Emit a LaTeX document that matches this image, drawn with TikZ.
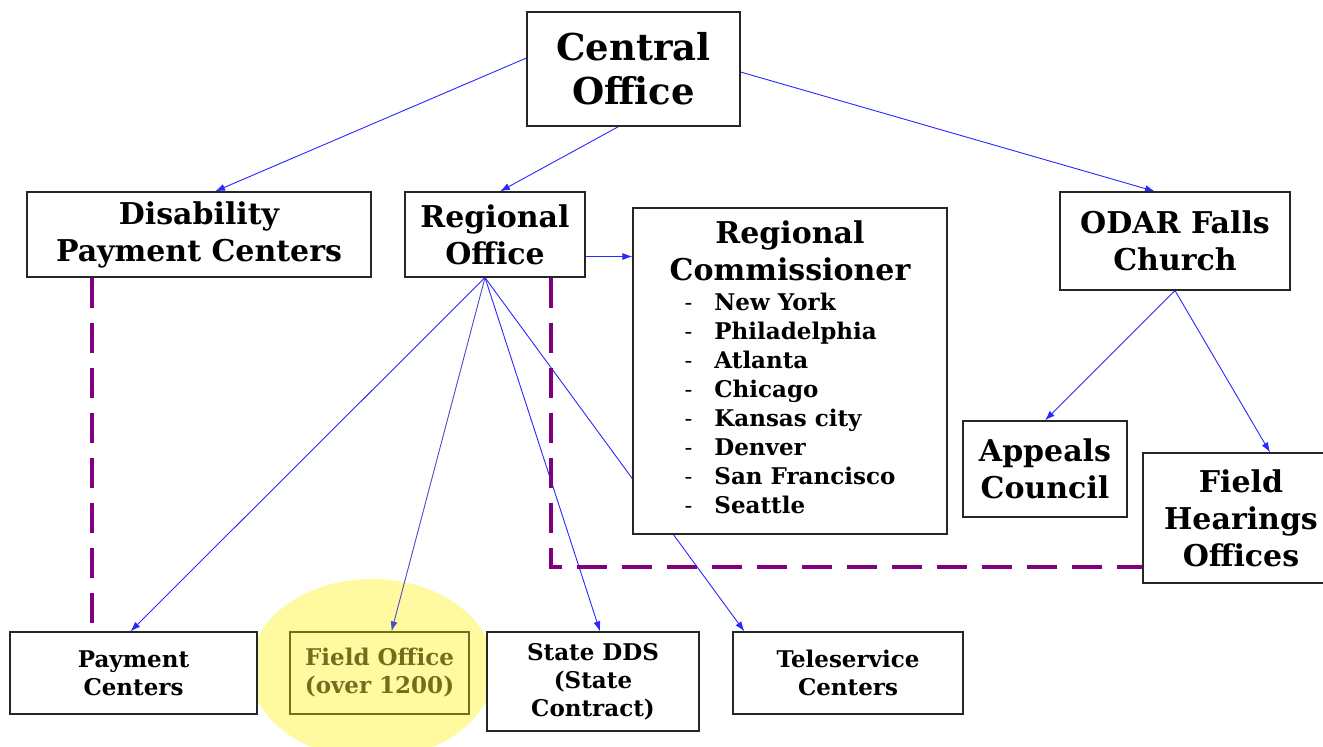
\documentclass[tikz,border=0pt]{standalone}
\usepackage{fontspec}
\setmainfont{DejaVu Serif}
\usetikzlibrary{arrows.meta,backgrounds}
\definecolor{linkblue}{RGB}{40,40,255}
\definecolor{dashpurple}{RGB}{128,0,128}
\definecolor{hilite}{RGB}{255,250,160}
\definecolor{olivetext}{RGB}{115,110,30}
\begin{document}
\begin{tikzpicture}[x=1pt,y=-1pt,>={Latex[length=10pt,width=7pt]},
    box/.style={draw=black!85,line width=1.2pt,fill=white,align=center,inner sep=0pt},
    bigtext/.style={font=\bfseries\fontsize{37}{44}\selectfont},
    midtext/.style={font=\bfseries\fontsize{30}{37}\selectfont},
    smalltext/.style={font=\bfseries\fontsize{23}{28}\selectfont},
    link/.style={->,linkblue,line width=0.9pt},
    purpledash/.style={dashpurple,line width=4.5pt,dash pattern=on 30pt off 15pt}]
  \useasboundingbox (0,0) rectangle (1323,747);
  \node[box,bigtext,minimum width=213,minimum height=114] (co) at (633.5,69) {Central\\Office};
  \node[box,midtext,minimum width=344,minimum height=85] (dpc) at (199,234.5) {Disability\\Payment Centers};
  \node[box,midtext,minimum width=180,minimum height=85] (ro) at (495,234.5) {Regional\\Office};
  \node[box,midtext,minimum width=314,minimum height=326] (rc) at (790,371) {Regional\\Commissioner\\[-7pt]
    {\fontsize{23}{29}\selectfont\begin{tabular}[t]{@{}l@{\hspace{22pt}}l@{}}
      \mdseries-&New York\\ \mdseries-&Philadelphia\\ \mdseries-&Atlanta\\ \mdseries-&Chicago\\
      \mdseries-&Kansas city\\ \mdseries-&Denver\\ \mdseries-&San Francisco\\ \mdseries-&Seattle
    \end{tabular}}};
  \node[box,midtext,minimum width=230,minimum height=98] (odar) at (1175,241) {ODAR Falls\\Church};
  \node[box,midtext,minimum width=164,minimum height=96] (ac) at (1045,469) {Appeals\\Council};
  \node[box,midtext,minimum width=196,minimum height=130] (fh) at (1241,518) {Field\\Hearings\\Offices};
  \node[box,smalltext,minimum width=247,minimum height=82] (pc) at (133.5,673) {Payment\\Centers};
  \node[box,smalltext,minimum width=179,minimum height=82,fill=none,draw=olivetext,text=olivetext] (fo) at (379.5,673) {Field Office\\(over 1200)};
  \node[box,smalltext,minimum width=212,minimum height=99] (dds) at (593,681.5) {State DDS\\(State\\Contract)};
  \node[box,smalltext,minimum width=230,minimum height=82] (ts) at (848,673) {Teleservice\\Centers};
  \begin{scope}[on background layer]
    \fill[hilite] (372,669) ellipse [x radius=122,y radius=90];
    \draw[link] ([yshift=11]co.west) -- ([xshift=16]dpc.north);
    \draw[link] ([xshift=-15]co.south) -- ([xshift=5]ro.north);
    \draw[link] ([yshift=-3]co.east) -- ([xshift=-20]odar.north);
    \draw[link] ([yshift=-22]ro.east) -- ([yshift=-22]ro.east -| rc.west);
    \draw[link] ([xshift=-10]ro.south) -- ([xshift=-3]pc.north);
    \draw[link,color=linkblue!60!gray] ([xshift=-10]ro.south) -- ([xshift=12]fo.north);
    \draw[link] ([xshift=-10]ro.south) -- ([xshift=7]dds.north);
    \draw[link] ([xshift=-10]ro.south) -- ([xshift=12]ts.north west);
    \draw[link] (odar.south) -- (ac.north);
    \draw[link] (odar.south) -- ([xshift=29]fh.north);
  \end{scope}
  \draw[purpledash] ([xshift=-107]dpc.south) -- ([xshift=-107]dpc.south |- pc.north);
  \draw[purpledash] ([xshift=56]ro.south) |- ([yshift=-49]fh.west);
\end{tikzpicture}
\end{document}
